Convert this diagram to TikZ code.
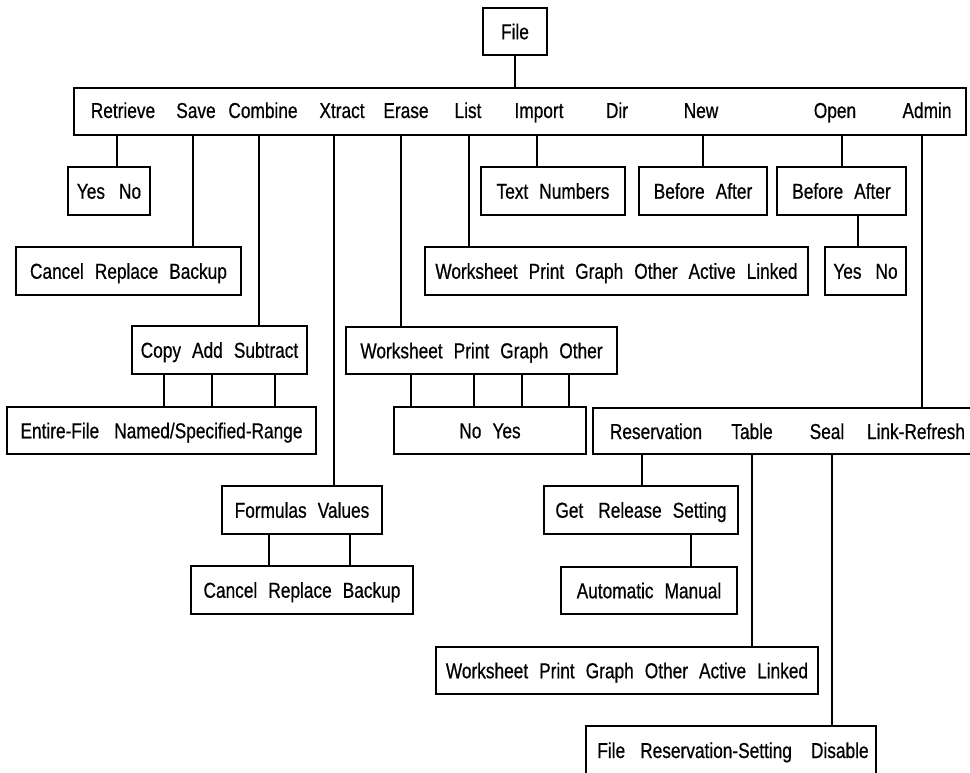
\documentclass[tikz,border=0pt]{standalone}
\usepackage{fontspec}
\setmainfont{Liberation Sans}[FakeStretch=0.8,FakeBold=0.6,WordSpace=2.3]
\begin{document}
\begin{tikzpicture}[x=1pt,y=-1pt,
  font=\fontsize{21.6pt}{26pt}\selectfont,
  box/.style={draw, line width=1.1pt, inner sep=0pt, outer sep=0pt,
    anchor=north west, text height=15.5pt, text depth=0pt},
  wire/.style={line width=1.1pt},
  word/.style={inner sep=0pt, anchor=base}]
\newcommand\dropline[3]{\coordinate (dl) at (#1,0);
  \draw[wire] (dl |- #2.south) -- (dl |- #3.north);}
\useasboundingbox (0,0) rectangle (970,773);
\clip (0,0) rectangle (970,773);

% top level
\node[box, minimum width=64pt, minimum height=47pt] (file) at (483,8) {File};
\node[box, minimum width=892pt, minimum height=47pt] (bar) at (74,88) {};
\node[word] (wRetrieve) at (123,118) {Retrieve};
\node[word] (wSave)     at (196,118) {Save};
\node[word] (wCombine)  at (263,118) {Combine};
\node[word] (wXtract)   at (342,118) {Xtract};
\node[word] (wErase)    at (406,118) {Erase};
\node[word] (wList)     at (468,118) {List};
\node[word] (wImport)   at (539,118) {Import};
\node[word] (wDir)      at (617,118) {Dir};
\node[word] (wNew)      at (701,118) {New};
\node[word] (wOpen)     at (835,118) {Open};
\node[word] (wAdmin)    at (927,118) {Admin};

% second level
\node[box, minimum width=82pt, minimum height=48pt] (retyn) at (68,167) {Yes\hspace{3pt} No};
\node[box, minimum width=225pt, minimum height=48pt] (savecrb) at (16,247) {Cancel Replace Backup};
\node[box, minimum width=175pt, minimum height=48pt] (cas) at (132,326) {Copy Add Subtract};
\node[box, minimum width=309pt, minimum height=47pt] (entire) at (7,407) {Entire-File\hspace{4pt} Named/Specified-Range};
\node[box, minimum width=160pt, minimum height=48pt] (fv) at (222,486) {Formulas Values};
\node[box, minimum width=222pt, minimum height=48pt] (xcrb) at (191,566) {Cancel Replace Backup};
\node[box, minimum width=271pt, minimum height=47pt] (wpgo) at (346,327) {Worksheet Print Graph Other};
\node[box, minimum width=192pt, minimum height=47pt] (noyes) at (394,407) {No Yes};
\node[box, minimum width=383pt, minimum height=48pt] (listw) at (425,247) {Worksheet Print Graph Other Active Linked};
\node[box, minimum width=144pt, minimum height=48pt] (textnum) at (481,167) {Text Numbers};
\node[box, minimum width=128pt, minimum height=48pt] (newba) at (639,167) {Before After};
\node[box, minimum width=129pt, minimum height=48pt] (openba) at (777,167) {Before After};
\node[box, minimum width=81pt, minimum height=48pt] (openyn) at (825,247) {Yes\hspace{3pt} No};

% Admin branch
\node[box, minimum width=382pt, minimum height=46pt] (resbar) at (593,408) {};
\node[word] (wReservation) at (656,439) {Reservation};
\node[word] (wTable)       at (752,439) {Table};
\node[word] (wSeal)        at (827,439) {Seal};
\node[word] (wLinkRefresh) at (916,439) {Link-Refresh};
\node[box, minimum width=194pt, minimum height=48pt] (grs) at (544,486) {Get\hspace{4pt} Release Setting};
\node[box, minimum width=176pt, minimum height=47pt] (auto) at (561,567) {Automatic Manual};
\node[box, minimum width=382pt, minimum height=47pt] (tablew) at (436,647) {Worksheet Print Graph Other Active Linked};
\node[box, minimum width=290pt, minimum height=60pt, text height=0pt] (frs) at (586,726) {};
\node[word] (frstext) at (733,758) {File\hspace{4pt} Reservation-Setting\hspace{8pt} Disable};

% connectors
\dropline{515}{file}{bar}
\dropline{117}{bar}{retyn}
\dropline{193}{bar}{savecrb}
\dropline{259}{bar}{cas}
\dropline{334}{bar}{fv}
\dropline{401}{bar}{wpgo}
\dropline{469}{bar}{listw}
\dropline{537}{bar}{textnum}
\dropline{703}{bar}{newba}
\dropline{842}{bar}{openba}
\dropline{922}{bar}{resbar}
\dropline{858}{openba}{openyn}
\dropline{164}{cas}{entire}
\dropline{212}{cas}{entire}
\dropline{275}{cas}{entire}
\dropline{269}{fv}{xcrb}
\dropline{350}{fv}{xcrb}
\dropline{411}{wpgo}{noyes}
\dropline{474}{wpgo}{noyes}
\dropline{522}{wpgo}{noyes}
\dropline{569}{wpgo}{noyes}
\dropline{642}{resbar}{grs}
\dropline{691}{grs}{auto}
\dropline{752}{resbar}{tablew}
\dropline{832}{resbar}{frs}
\end{tikzpicture}
\end{document}
